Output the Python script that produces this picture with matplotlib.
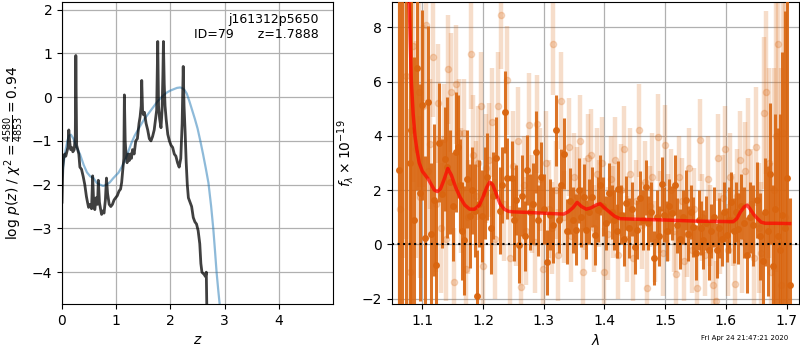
import numpy as np
import matplotlib
matplotlib.use("Agg")
import matplotlib.pyplot as plt

# redshift fit: log p(z)
z_pz = [0.00, 0.015, 0.03, 0.05, 0.07, 0.09, 0.11, 0.125, 0.14, 0.16, 0.18, 0.20, 0.225,
        0.245, 0.255, 0.27, 0.29, 0.31, 0.33, 0.36, 0.39, 0.42, 0.45, 0.47, 0.49, 0.52,
        0.545, 0.565, 0.585, 0.605, 0.63, 0.655, 0.67, 0.69, 0.71, 0.73, 0.75, 0.775,
        0.80, 0.82, 0.84, 0.87, 0.90, 0.93, 0.96, 0.99, 1.02, 1.05, 1.08, 1.10, 1.125,
        1.14, 1.15, 1.165, 1.18, 1.20, 1.22, 1.24, 1.26, 1.28, 1.30, 1.33, 1.36, 1.39,
        1.42, 1.44, 1.46, 1.47, 1.485, 1.50, 1.52, 1.55, 1.58, 1.61, 1.64, 1.67, 1.70,
        1.72, 1.745, 1.765, 1.78, 1.80, 1.825, 1.845, 1.86, 1.87, 1.885, 1.90, 1.92,
        1.95, 1.98, 2.01, 2.04, 2.07, 2.10, 2.13, 2.16, 2.19, 2.215, 2.235, 2.25, 2.27,
        2.29, 2.31, 2.33, 2.36, 2.39, 2.42, 2.45, 2.48, 2.51, 2.54, 2.56, 2.58, 2.62,
        2.645, 2.66, 2.67, 2.68]
logpz = [-2.4, -1.6, -1.4, -1.3, -1.35, -1.25, -1.15, -0.75, -1.0, -1.2, -1.15, -1.25, -1.2,
         -0.9, 0.95, -1.1, -1.2, -1.3, -1.6, -1.65, -1.81, -2.0, -2.27, -2.4, -2.52, -2.45,
         -2.55, -1.8, -2.45, -2.57, -2.3, -2.45, -1.9, -2.4, -2.55, -2.68, -2.6, -2.65,
         -2.35, -1.85, -2.2, -2.45, -2.5, -2.45, -2.35, -2.3, -2.25, -2.15, -2.1, -1.95, -1.6,
         -1.4, 0.05, -1.0, -1.3, -1.5, -1.3, -1.45, -1.3, -1.4, -1.2, -1.3, -1.0, -0.95,
         -0.6, -0.45, -0.2, 0.38, -0.3, -0.4, -0.35, -0.6, -0.75, -0.95, -1.0, -0.9, -0.75,
         -0.55, -0.3, 1.27, -0.2, -0.5, -0.7, -0.3, 0.5, 1.27, 0.3, -0.2, -0.5,
         -0.85, -1.0, -1.1, -1.15, -1.3, -1.35, -1.5, -1.6, -1.4, -0.6, 0.7, -0.2, -0.8,
         -1.5, -2.0, -2.3, -2.4, -2.5, -2.75, -2.85, -2.9, -3.05, -3.35, -3.8, -4.0, -4.05,
         -4.1, -4.0, -4.8, -6.0]

z_prior = [0.00, 0.03, 0.06, 0.10, 0.13, 0.165, 0.21, 0.27, 0.33, 0.40, 0.46, 0.52, 0.58,
           0.64, 0.70, 0.76, 0.82, 0.88, 0.94, 1.00, 1.04, 1.10, 1.16, 1.22, 1.28, 1.34,
           1.40, 1.46, 1.52, 1.58, 1.64, 1.70, 1.76, 1.82, 1.88, 1.94, 2.00, 2.06, 2.12,
           2.18, 2.22, 2.26, 2.30, 2.35, 2.40, 2.45, 2.50, 2.55, 2.60, 2.65, 2.70, 2.75,
           2.79, 2.82, 2.85, 2.88, 2.92]
logpz_prior = [-1.85, -1.5, -1.25, -1.0, -0.88, -0.86, -0.95, -1.15, -1.3, -1.55, -1.72,
               -1.81, -1.85, -1.96, -2.0, -2.03, -2.0, -1.95, -1.86, -1.78, -1.73, -1.6,
               -1.45, -1.25, -1.05, -0.88, -0.75, -0.62, -0.5, -0.4, -0.3, -0.2, -0.1, -0.02,
               0.05, 0.11, 0.15, 0.18, 0.21, 0.22, 0.2, 0.16, 0.08, -0.1, -0.3, -0.5, -0.72,
               -1.0, -1.3, -1.62, -1.96, -2.5, -3.02, -3.5, -4.0, -4.4, -4.9]

# spectrum, first set (solid)
dark_wave = [1.061, 1.067, 1.073, 1.079, 1.082, 1.087, 1.092, 1.096, 1.100, 1.104,
             1.110, 1.115, 1.120, 1.123, 1.128, 1.133, 1.137, 1.141, 1.146, 1.151,
             1.155, 1.158, 1.162, 1.165, 1.169, 1.173, 1.178, 1.182, 1.186, 1.190,
             1.194, 1.198, 1.203, 1.207, 1.213, 1.217, 1.222, 1.228, 1.232, 1.237,
             1.240, 1.247, 1.251, 1.255, 1.259, 1.264, 1.269, 1.273, 1.278, 1.282,
             1.287, 1.291, 1.296, 1.300, 1.305, 1.310, 1.315, 1.320, 1.325, 1.329,
             1.333, 1.338, 1.343, 1.348, 1.353, 1.358, 1.362, 1.366, 1.370, 1.375,
             1.380, 1.385, 1.389, 1.393, 1.398, 1.403, 1.408, 1.412, 1.416, 1.420,
             1.423, 1.428, 1.432, 1.435, 1.440, 1.445, 1.450, 1.454, 1.459, 1.463,
             1.468, 1.472, 1.477, 1.481, 1.486, 1.490, 1.494, 1.498, 1.503, 1.507,
             1.511, 1.516, 1.520, 1.525, 1.529, 1.534, 1.538, 1.542, 1.546, 1.551,
             1.555, 1.559, 1.563, 1.568, 1.572, 1.576, 1.581, 1.585, 1.589, 1.593,
             1.597, 1.601, 1.605, 1.608, 1.613, 1.617, 1.620, 1.625, 1.630, 1.635,
             1.640, 1.645, 1.651, 1.656, 1.661, 1.665, 1.669, 1.673, 1.677, 1.681,
             1.685, 1.689, 1.693, 1.697, 1.701, 1.705]
dark_flux = [2.75, -3.0, 10.0, 3.0, 4.2, 0.9, 6.5, 1.9, 5.15, 0.25,
             5.25, 0.4, 1.65, -0.75, 3.75, 1.87, 3.15, 2.85, 2.3, 1.4,
             3.4, 3.6, 2.2, 0.5, 0.15, 2.4, 1.05, 2.0, 1.25, -1.9,
             1.5, 1.05, 1.9, 2.5, 0.62, 1.8, 3.2, 1.24, 2.2, 4.88,
             2.43, 2.43, 0.9, 1.63, -0.03, 1.8, 0.31, 2.74, 1.2, 1.5,
             3.4, 0.89, 2.47, 1.3, -0.65, 1.1, 0.7, 4.2, 0.9, 2.2,
             3.35, 0.48, 1.6, 0.9, 0.55, 2.0, 1.0, 1.75, 0.55, 1.2,
             1.75, 0.34, 1.28, 2.18, 1.4, 0.8, 1.9, 1.2, 0.91, 0.5,
             2.06, 1.1, 0.2, 1.53, 0.6, 1.3, -0.1, 0.55, 1.7, 0.9,
             2.1, 0.8, 1.2, -0.49, 1.0, 0.3, 2.24, 1.1, 0.5, 1.4,
             1.16, 2.18, 0.7, 0.2, 1.0, 1.63, 0.4, 1.2, 0.64, -0.3,
             0.9, 0.6, 0.18, 0.8, -0.22, 0.5, 1.0, -0.22, 0.6, 0.2,
             1.2, 0.34, 0.9, 1.57, 0.5, 1.2, 0.58, 1.4, 0.8, -0.4,
             1.0, 0.7, 1.65, 0.3, -0.6, 1.2, 0.5, 2.6, -0.8, 1.3,
             0.3, -0.19, 1.1, 0.6, 2.46, -1.5]
dark_err = [12, 14, 14, 9, 7, 6, 4.5, 4, 3.5, 3,
            2.8, 2.6, 2.8, 2.4, 2.2, 2.0, 1.9, 2.6, 1.9, 2.0,
            2.2, 1.9, 1.7, 1.8, 2.0, 1.8, 1.9, 1.6, 1.7, 1.7,
            1.6, 1.7, 1.7, 1.6, 1.7, 1.6, 1.5, 1.6, 1.4, 1.5,
            1.5, 1.4, 1.5, 1.3, 1.4, 1.5, 1.3, 1.3, 1.4, 1.5,
            1.5, 1.3, 1.3, 1.3, 1.2, 1.3, 1.4, 1.3, 1.2, 1.3,
            1.3, 1.2, 1.2, 1.2, 1.3, 1.2, 1.1, 1.2, 1.1, 1.2,
            1.1, 1.1, 1.2, 1.1, 1.1, 1.0, 1.1, 1.0, 1.1, 1.0,
            1.0, 1.1, 1.0, 1.0, 1.1, 1.0, 1.0, 1.1, 1.0, 1.1,
            1.0, 1.0, 1.1, 1.0, 1.0, 1.1, 1.0, 1.0, 1.1, 1.0,
            1.0, 1.1, 1.0, 1.1, 1.0, 1.1, 1.0, 1.0, 1.1, 1.0,
            1.1, 1.0, 1.1, 1.0, 1.1, 1.0, 1.1, 1.0, 1.1, 1.0,
            1.1, 1.0, 1.2, 1.1, 1.2, 1.1, 1.3, 1.2, 1.3, 1.4,
            1.3, 1.5, 1.4, 1.6, 1.8, 2.0, 2.4, 2.6, 3.0, 3.5,
            4.0, 5.0, 6.0, 8.0, 10.0, 3.2]

# spectrum, second set (faint)
light_wave = [1.064, 1.069, 1.074, 1.080, 1.084, 1.089, 1.094, 1.097, 1.101, 1.106,
              1.109, 1.113, 1.118, 1.122, 1.126, 1.130, 1.135, 1.139, 1.143, 1.148,
              1.152, 1.156, 1.160, 1.164, 1.168, 1.172, 1.176, 1.180, 1.184, 1.188,
              1.192, 1.196, 1.200, 1.205, 1.210, 1.215, 1.220, 1.225, 1.230, 1.234,
              1.240, 1.244, 1.249, 1.254, 1.258, 1.262, 1.267, 1.271, 1.275, 1.280,
              1.285, 1.289, 1.294, 1.298, 1.303, 1.308, 1.313, 1.316, 1.320, 1.324,
              1.329, 1.334, 1.341, 1.345, 1.350, 1.355, 1.359, 1.364, 1.368, 1.373,
              1.378, 1.383, 1.387, 1.391, 1.396, 1.400, 1.405, 1.410, 1.414, 1.418,
              1.422, 1.427, 1.432, 1.437, 1.442, 1.447, 1.452, 1.457, 1.461, 1.466,
              1.470, 1.475, 1.479, 1.484, 1.488, 1.492, 1.496, 1.500, 1.505, 1.510,
              1.514, 1.518, 1.522, 1.527, 1.531, 1.536, 1.540, 1.544, 1.548, 1.553,
              1.557, 1.561, 1.566, 1.570, 1.574, 1.579, 1.583, 1.587, 1.591, 1.595,
              1.599, 1.603, 1.607, 1.611, 1.615, 1.619, 1.623, 1.627, 1.632, 1.636,
              1.641, 1.646, 1.650, 1.654, 1.658, 1.662, 1.666, 1.671, 1.675, 1.679,
              1.683, 1.686, 1.690, 1.694, 1.698]
light_flux = [1.3, 9.5, 6.2, -1.0, 7.3, 3.5, 5.6, 1.75, 5.1, 8.1,
              2.7, 3.7, 6.9, 1.5, 5.2, 0.6, 3.9, 0.2, 6.45, 5.6,
              -1.4, 5.9, 4.1, 2.0, 4.1, -0.9, 1.0, 7.0, 3.3, 1.8,
              3.0, 5.1, -0.8, 2.8, 3.1, 4.5, 0.2, 5.1, 8.45, 1.5,
              6.05, -0.5, 2.9, 1.0, 3.8, -1.57, 2.2, 0.5, 4.4, 1.5,
              0.1, 4.45, 2.4, -0.9, 3.0, 1.3, 0.6, 7.4, 2.0, -0.4,
              5.3, 1.0, 3.6, 0.3, 2.5, 1.8, 3.8, -1.0, 1.5, 3.2,
              3.3, 0.6, 2.6, 1.5, 3.0, -1.0, 0.4, 2.4, 1.2, 3.1,
              -0.4, 2.0, 3.5, 0.2, 2.6, -0.5, 1.6, 4.2, 0.7, 2.3,
              -1.6, 1.4, 2.5, 0.1, 3.95, 1.2, -0.3, 3.65, 1.0, 2.0,
              0.5, -1.1, 2.5, 1.6, -0.6, 0.4, 2.8, -0.2, 1.3, -1.6,
              3.85, 1.0, -0.4, 2.4, 0.7, -1.5, -2.1, 3.2, 0.4, 1.7,
              3.5, -0.2, 2.5, 0.9, -1.45, 1.8, 3.1, 0.1, 2.7, 3.4,
              1.5, -0.5, 3.6, 0.6, -0.3, 4.85, 5.6, 3.0, -1.0, 2.0,
              4.0, 7.4, -1.5, 4.1, 1.0]
light_err = [10, 10, 6, 6, 5, 4, 3.5, 3, 3, 2.8,
             2.5, 2.4, 2.2, 2.5, 2.2, 2.4, 2.0, 2.3, 2.0, 2.2,
             2.0, 2.2, 2.0, 2.3, 2.0, 2.4, 2.1, 2.0, 2.2, 2.0,
             2.1, 2.0, 2.2, 2.0, 2.1, 2.0, 2.2, 2.0, 2.0, 2.1,
             2.0, 1.9, 2.0, 1.8, 2.0, 1.9, 1.8, 2.0, 1.9, 1.8,
             1.9, 1.8, 1.9, 1.8, 1.9, 1.8, 1.7, 1.9, 1.8, 1.7,
             1.8, 1.7, 1.8, 1.7, 1.6, 1.8, 1.7, 1.6, 1.7, 1.6,
             1.7, 1.6, 1.7, 1.6, 1.7, 1.6, 1.7, 1.6, 1.7, 1.6,
             1.6, 1.7, 1.6, 1.6, 1.7, 1.6, 1.5, 1.7, 1.6, 1.5,
             1.6, 1.5, 1.6, 1.5, 1.6, 1.5, 1.6, 1.5, 1.6, 1.5,
             1.5, 1.6, 1.5, 1.6, 1.5, 1.6, 1.5, 1.6, 1.5, 1.6,
             1.5, 1.6, 1.5, 1.6, 1.5, 1.6, 1.5, 1.6, 1.5, 1.6,
             1.6, 1.7, 1.6, 1.7, 1.8, 1.7, 1.8, 1.9, 1.8, 2.0,
             2.0, 2.2, 2.2, 2.4, 2.6, 2.8, 3.0, 3.5, 4.0, 4.5,
             5.0, 6.0, 8.0, 10, 12]

# best-fit model
model_wave = [1.076, 1.079, 1.082, 1.085, 1.088, 1.091, 1.095, 1.100, 1.105, 1.110, 1.115,
              1.120, 1.125, 1.130, 1.136, 1.142, 1.148, 1.155, 1.162, 1.170, 1.178, 1.186,
              1.194, 1.200, 1.206, 1.211, 1.216, 1.222, 1.228, 1.235, 1.242, 1.250, 1.275,
              1.300, 1.333, 1.340, 1.348, 1.355, 1.362, 1.370, 1.378, 1.386, 1.393, 1.400,
              1.408, 1.416, 1.425, 1.450, 1.500, 1.550, 1.612, 1.618, 1.624, 1.630, 1.635,
              1.640, 1.646, 1.652, 1.658, 1.665, 1.680, 1.705]
model_flux = [10.0, 8.5, 6.0, 4.8, 4.0, 3.5, 3.0, 2.7, 2.55, 2.4, 2.2,
              2.0, 1.95, 2.05, 2.4, 2.8, 2.55, 2.1, 1.75, 1.45, 1.3, 1.3,
              1.45, 1.75, 2.1, 2.3, 2.2, 1.85, 1.5, 1.3, 1.22, 1.2, 1.18,
              1.15, 1.12, 1.2, 1.35, 1.55, 1.4, 1.3, 1.35, 1.45, 1.5, 1.35,
              1.2, 1.05, 0.95, 0.93, 0.9, 0.86, 0.84, 0.95, 1.2, 1.38, 1.45,
              1.3, 1.1, 0.95, 0.82, 0.78, 0.78, 0.77]

orange = '#d9650f'

fig = plt.figure(figsize=(8, 3.5), dpi=100)

# left panel: p(z)
ax = fig.add_axes([0.0775, 0.131, 0.339, 0.863])
ax.plot(z_prior, logpz_prior, color='tab:blue', alpha=0.5, lw=1.6)
ax.plot(z_pz, logpz, color='k', alpha=0.75, lw=2)
ax.set_xlim(0, 5.0)
ax.set_ylim(-4.73, 2.17)
ax.set_xticks([0, 1, 2, 3, 4])
ax.set_yticks([-4, -3, -2, -1, 0, 1, 2])
ax.grid(color='#b0b0b0', lw=0.9)
ax.set_axisbelow(True)
ax.set_xlabel('$z$')
ax.set_ylabel(r'log $p(z)$ / $\chi^2=\frac{4580}{4853}=0.94$')
ax.text(0.945, 0.965, 'j161312p5650\nID=79      z=1.7888', ha='right', va='top',
        transform=ax.transAxes, fontsize=9)

# right panel: spectrum
ax2 = fig.add_axes([0.4896, 0.131, 0.5095, 0.863])
ax2.errorbar(light_wave, light_flux, yerr=light_err, fmt='o', color=orange,
             ecolor=orange, alpha=0.22, ms=4.5, elinewidth=3.2, zorder=2)
ax2.errorbar(dark_wave, dark_flux, yerr=dark_err, fmt='o', color=orange,
             ecolor=orange, alpha=0.9, ms=4, elinewidth=2.2, zorder=3)
ax2.plot(model_wave, model_flux, color='red', alpha=0.7, lw=2.5, zorder=5)
ax2.axhline(0, color='k', ls=':', lw=1.5, zorder=6)
ax2.set_xlim(1.0496, 1.7208)
ax2.set_ylim(-2.2, 8.93)
ax2.set_xticks([1.1, 1.2, 1.3, 1.4, 1.5, 1.6, 1.7])
ax2.set_yticks([-2, 0, 2, 4, 6, 8])
ax2.grid(color='#b0b0b0', lw=0.9)
ax2.set_axisbelow(True)
ax2.set_xlabel(r'$\lambda$')
ax2.set_ylabel(r'$f_\lambda \times 10^{-19}$')

fig.text(0.985, 0.025, 'Fri Apr 24 21:47:21 2020', ha='right', va='bottom', fontsize=5)

fig.savefig('out.png', dpi=100)
